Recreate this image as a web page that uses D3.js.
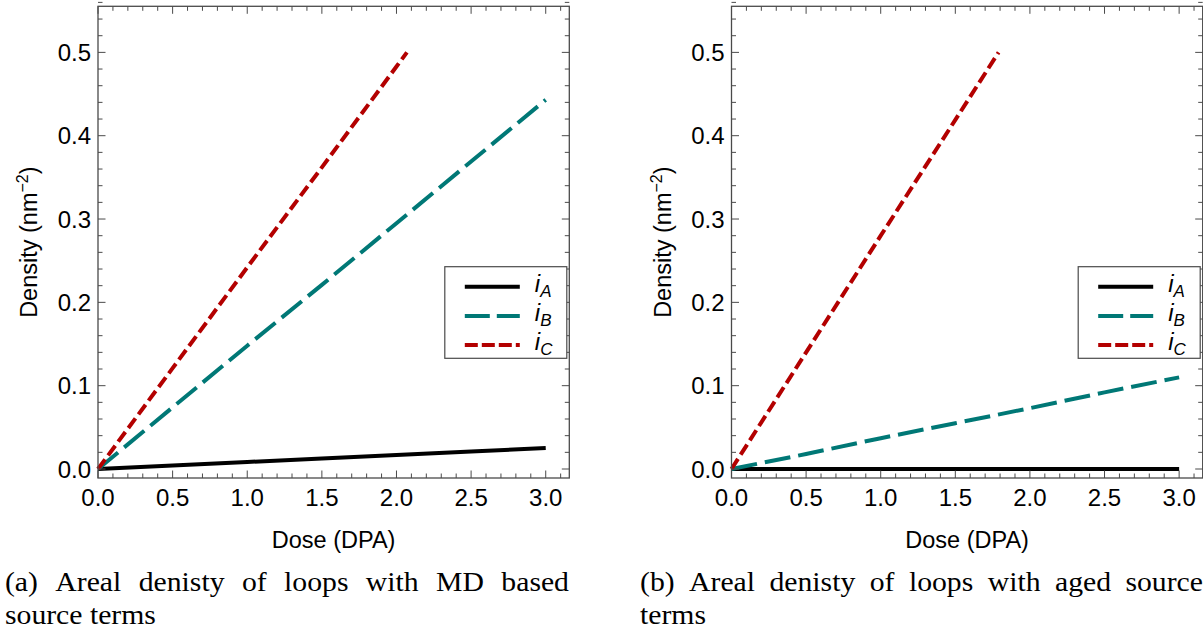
<!DOCTYPE html>
<html><head><meta charset="utf-8">
<script src="https://cdn.jsdelivr.net/npm/d3@7"></script>
<style>html,body{margin:0;padding:0;background:#fff;}svg{display:block;}</style>
</head><body>
<svg id="c" width="1203" height="637"></svg>
<script>
// ---- data ----
const doseAB = [0, 0.5, 1.0, 1.5, 2.0, 2.5, 3.0];
const leftA  = [0, 0.0042, 0.0084, 0.0126, 0.0168, 0.021, 0.0252];
const leftB  = [0, 0.074, 0.148, 0.221, 0.295, 0.369, 0.443];
const leftDoseC = [0, 0.5, 1.0, 1.5, 2.0, 2.07];
const leftC  = [0, 0.121, 0.242, 0.362, 0.483, 0.5];
const rightA = [0, 0, 0, 0, 0, 0, 0];
const rightB = [0, 0.018, 0.037, 0.055, 0.073, 0.092, 0.110];
const rightDoseC = [0, 0.5, 1.0, 1.5, 1.79];
const rightC = [0, 0.14, 0.28, 0.419, 0.5];
const xTicks = [0, 0.5, 1.0, 1.5, 2.0, 2.5, 3.0];
const yTicks = [0, 0.1, 0.2, 0.3, 0.4, 0.5];
const seriesNames = ["A", "B", "C"];
const captions = [
  ["(a) Areal denisty of loops with MD based", "source terms"],
  ["(b) Areal denisty of loops with aged source", "terms"]
];

const colors = {A: "#000000", B: "#007876", C: "#b30000"};
const dashes = {A: null, B: "26,8", C: "12,5"};

const svg = d3.select("#c");
const frameColor = "#4a4a4a";
const sansFont = "'Liberation Sans', Arial, sans-serif";
const serifFont = "'Liberation Serif', 'DejaVu Serif', serif";

const panels = [
  {left: 98, right: 569.3, A: [doseAB, leftA], B: [doseAB, leftB], C: [leftDoseC, leftC],
   capX0: 5, capX1: 569, titleX: 37, cap: captions[0]},
  {left: 731.5, right: 1202.7, A: [doseAB, rightA], B: [doseAB, rightB], C: [rightDoseC, rightC],
   capX0: 640, capX1: 1203, titleX: 671, cap: captions[1]}
];
const plotTop = 6.3, plotBottom = 478;

panels.forEach(p => {
  const x = d3.scaleLinear().domain([0, 3.158]).range([p.left, p.right]);
  const y = d3.scaleLinear().domain([-0.0108, 0.5553]).range([plotBottom, plotTop]);
  const g = svg.append("g");

  // series lines
  const line = d3.line().x(d => x(d[0])).y(d => y(d[1]));
  seriesNames.forEach(s => {
    const [xs, ys] = p[s];
    const pts = xs.map((v, i) => [v, ys[i]]);
    const path = g.append("path").datum(pts)
      .attr("d", line)
      .attr("fill", "none")
      .attr("stroke", colors[s])
      .attr("stroke-width", 4);
    if (dashes[s]) path.attr("stroke-dasharray", dashes[s]);
  });

  // frame
  g.append("rect").attr("x", p.left).attr("y", plotTop)
    .attr("width", p.right - p.left).attr("height", plotBottom - plotTop)
    .attr("fill", "none").attr("stroke", frameColor).attr("stroke-width", 1.3);

  // ticks (inward on all sides)
  const xMinor = d3.range(0, 3.16, 0.1).map(v => Math.round(v * 10) / 10);
  const yMinor = d3.range(0, 0.56, 0.02).map(v => Math.round(v * 100) / 100);
  const isMajorX = v => Math.abs(v * 2 - Math.round(v * 2)) < 1e-6;
  const isMajorY = v => Math.abs(v * 10 - Math.round(v * 10)) < 1e-6;
  xMinor.forEach(v => {
    const L = isMajorX(v) ? 7.5 : 4.5;
    g.append("line").attr("x1", x(v)).attr("x2", x(v)).attr("y1", plotBottom).attr("y2", plotBottom - L)
      .attr("stroke", frameColor).attr("stroke-width", 1);
    g.append("line").attr("x1", x(v)).attr("x2", x(v)).attr("y1", plotTop).attr("y2", plotTop + L)
      .attr("stroke", frameColor).attr("stroke-width", 1);
  });
  yMinor.forEach(v => {
    const L = isMajorY(v) ? 7.5 : 4.5;
    g.append("line").attr("x1", p.left).attr("x2", p.left + L).attr("y1", y(v)).attr("y2", y(v))
      .attr("stroke", frameColor).attr("stroke-width", 1);
    g.append("line").attr("x1", p.right).attr("x2", p.right - L).attr("y1", y(v)).attr("y2", y(v))
      .attr("stroke", frameColor).attr("stroke-width", 1);
  });

  // tick labels
  xTicks.forEach(v => {
    g.append("text").attr("x", x(v)).attr("y", 506)
      .attr("text-anchor", "middle").attr("font-family", sansFont).attr("font-size", 24)
      .attr("fill", "#000").text(v.toFixed(1));
  });
  yTicks.forEach(v => {
    g.append("text").attr("x", p.left - 7).attr("y", y(v) + 8.5)
      .attr("text-anchor", "end").attr("font-family", sansFont).attr("font-size", 24)
      .attr("fill", "#000").text(v.toFixed(1));
  });

  // axis titles
  g.append("text").attr("x", (p.left + p.right) / 2).attr("y", 548)
    .attr("text-anchor", "middle").attr("font-family", sansFont).attr("font-size", 23.5)
    .text("Dose (DPA)");
  const yt = g.append("text")
    .attr("transform", `translate(${p.titleX},${(plotTop + plotBottom) / 2}) rotate(-90)`)
    .attr("text-anchor", "middle").attr("font-family", sansFont).attr("font-size", 23.5);
  yt.append("tspan").text("Density (nm");
  yt.append("tspan").attr("dy", -9).attr("font-size", 16).text("\u22122");
  yt.append("tspan").attr("dy", 9).text(")");

  // legend
  const lx0 = p.right - 124.5, lx1 = p.right - 2.5, ly0 = 266.7, ly1 = 358.3;
  g.append("rect").attr("x", lx0).attr("y", ly0).attr("width", lx1 - lx0).attr("height", ly1 - ly0)
    .attr("fill", "#fff").attr("stroke", frameColor).attr("stroke-width", 1.2);
  const rows = [286.7, 316, 345];
  seriesNames.forEach((s, i) => {
    const ln = g.append("line").attr("x1", lx0 + 20).attr("x2", lx0 + 75)
      .attr("y1", rows[i]).attr("y2", rows[i])
      .attr("stroke", colors[s]).attr("stroke-width", 4);
    if (dashes[s]) ln.attr("stroke-dasharray", s === "B" ? "25,7" : "13,4");
    const t = g.append("text").attr("x", lx0 + 90).attr("y", rows[i] + 5)
      .attr("font-family", sansFont).attr("font-size", 24);
    t.append("tspan").attr("font-style", "italic").text("i");
    t.append("tspan").attr("dy", 5).attr("font-size", 17).attr("font-style", "italic").text(s);
  });

  // caption: first line justified, second line left (horizontally widened serif)
  const capSize = 27, sx = 1.1;
  const cg = g.append("g").attr("transform", `scale(${sx},1)`);
  const words = p.cap[0].split(" ");
  const tmp = words.map(w => svg.append("text").attr("font-family", serifFont)
    .attr("font-size", capSize).text(w));
  const widths = tmp.map(t => t.node().getComputedTextLength());
  tmp.forEach(t => t.remove());
  const total = d3.sum(widths);
  const gap = ((p.capX1 - p.capX0) / sx - total) / (words.length - 1);
  let cx = p.capX0 / sx;
  words.forEach((w, i) => {
    cg.append("text").attr("x", cx).attr("y", 591).attr("font-family", serifFont)
      .attr("font-size", capSize).attr("fill", "#000").text(w);
    cx += widths[i] + gap;
  });
  cg.append("text").attr("x", p.capX0 / sx).attr("y", 624).attr("font-family", serifFont)
    .attr("font-size", capSize).attr("fill", "#000").text(p.cap[1]);
});
</script>
</body></html>
